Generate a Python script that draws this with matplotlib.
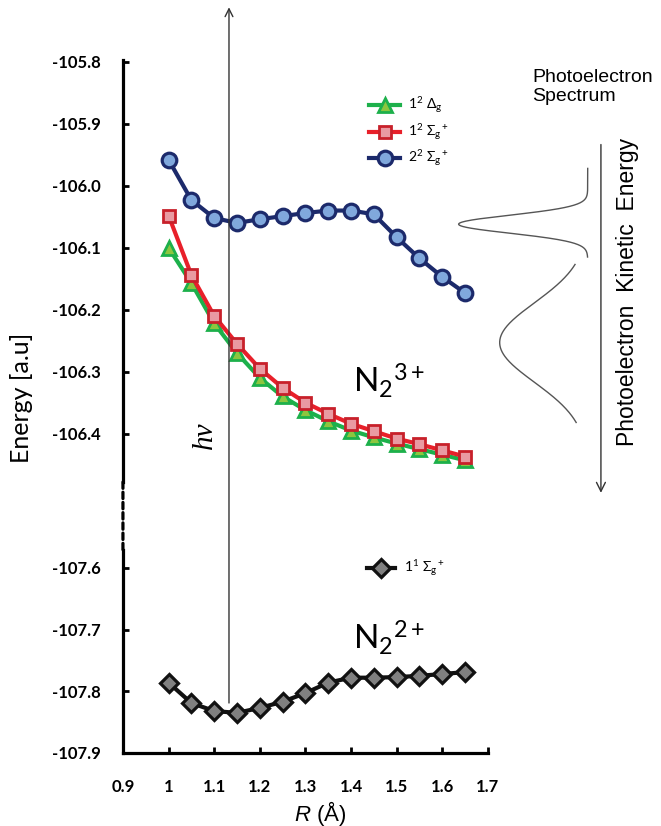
import numpy as np
import matplotlib
matplotlib.use('Agg')
from matplotlib import pyplot as plt
from matplotlib.patches import ConnectionPatch

plt.rcParams['font.family'] = ['Lato', 'DejaVu Sans']
plt.rcParams['mathtext.fontset'] = 'custom'
plt.rcParams['mathtext.rm'] = 'Liberation Sans'
plt.rcParams['mathtext.it'] = 'Liberation Sans:italic'

# bond length R (Angstrom)
R = [1.0, 1.05, 1.1, 1.15, 1.2, 1.25, 1.3, 1.35, 1.4, 1.45, 1.5, 1.55, 1.6, 1.65]

# N2 3+ states (a.u.)
E_1D = [-106.100, -106.157, -106.222, -106.270, -106.310, -106.340, -106.362,
        -106.380, -106.395, -106.406, -106.416, -106.425, -106.434, -106.443]
E_1S = [-106.048, -106.144, -106.210, -106.255, -106.295, -106.326, -106.350,
        -106.368, -106.384, -106.396, -106.408, -106.417, -106.427, -106.437]
E_2S = [-105.958, -106.023, -106.052, -106.060, -106.054, -106.049, -106.044,
        -106.040, -106.040, -106.046, -106.083, -106.117, -106.147, -106.173]
# N2 2+ ground state
E_N2 = [-107.786, -107.819, -107.832, -107.835, -107.827, -107.817, -107.803,
        -107.786, -107.778, -107.778, -107.777, -107.775, -107.772, -107.769]

xticks = [0.9, 1.0, 1.1, 1.2, 1.3, 1.4, 1.5, 1.6, 1.7]
xticklabels = ['0.9', '1', '1.1', '1.2', '1.3', '1.4', '1.5', '1.6', '1.7']
yticks_up = [-105.8, -105.9, -106.0, -106.1, -106.2, -106.3, -106.4]
yticks_lo = [-107.6, -107.7, -107.8, -107.9]

# schematic photoelectron spectrum (peak energy, height, width)
peak_E = [-106.062, -106.253]
peak_h = [0.283, 0.193]
peak_w = [0.0145, 0.064]
peak_span = [(-105.972, -106.115), (-106.127, -106.382)]
spec_base = 1.919

fig = plt.figure(figsize=(6.61, 8.26), dpi=100)
ax_up = fig.add_axes([0.186, 0.4165, 0.552, 0.5109])
ax_lo = fig.add_axes([0.186, 0.0884, 0.552, 0.2458])

for ax in (ax_up, ax_lo):
    ax.set_xlim(0.9, 1.7)
    ax.spines['top'].set_visible(False)
    ax.spines['right'].set_visible(False)
    ax.spines['left'].set_linewidth(2.3)
    ax.spines['bottom'].set_linewidth(2.3)
    ax.tick_params(direction='in', length=4, width=2, labelsize=12, pad=16)

ax_up.set_ylim(-106.478, -105.797)
ax_up.spines['bottom'].set_visible(False)
ax_up.set_xticks([])
ax_up.set_yticks(yticks_up)
ax_up.set_yticklabels(['%.1f' % v for v in yticks_up], fontweight='bold')

ax_lo.set_ylim(-107.9, -107.571)
ax_lo.set_yticks(yticks_lo)
ax_lo.set_yticklabels(['%.1f' % v for v in yticks_lo], fontweight='bold')
ax_lo.set_xticks(xticks)
ax_lo.set_xticklabels(xticklabels, fontweight='bold')
ax_lo.tick_params(axis='x', pad=19)

# curves
l1, = ax_up.plot(R, E_1D, '-^', color='#1db04b', lw=3, ms=10, mfc='#8cc63f',
                 mec='#1db04b', mew=2, label=r'$\mathregular{1^2\ \Delta_g}$', zorder=3)
l2, = ax_up.plot(R, E_1S, '-s', color='#e8202a', lw=3, ms=9, mfc='#e99aa2',
                 mec='#c8202a', mew=2, label=r'$\mathregular{1^2\ \Sigma_g{}^+}$', zorder=4)
l3, = ax_up.plot(R, E_2S, '-o', color='#1c2a6b', lw=3, ms=10.5, mfc='#80a8dc',
                 mec='#1c2a6b', mew=2.3, label=r'$\mathregular{2^2\ \Sigma_g{}^+}$', zorder=4)
l4, = ax_lo.plot(R, E_N2, '-D', color='#111111', lw=3, ms=9.5, mfc='#808080',
                 mec='#111111', mew=2.3, label=r'$\mathregular{1^1\ \Sigma_g{}^+}$', zorder=4)

ax_up.legend(handles=[l1, l2, l3], loc='upper left', bbox_to_anchor=(0.66, 0.93),
             frameon=False, fontsize=10, handlelength=2.2, handletextpad=0.6,
             labelspacing=0.45, borderaxespad=0)
ax_lo.legend(handles=[l4], loc='upper left', bbox_to_anchor=(0.655, 0.985),
             frameon=False, fontsize=10, handlelength=2.0, handletextpad=0.6,
             borderaxespad=0)

ax_up.text(1.404, -106.334, r'$\mathregular{N_2{}^{3+}}$', fontsize=24, va='baseline')
ax_lo.text(1.404, -107.733, r'$\mathregular{N_2{}^{2+}}$', fontsize=24, va='baseline')

# dashed break of the energy axis
brk = ConnectionPatch(xyA=(0, 0), coordsA=ax_up.transAxes, xyB=(0, 1), coordsB=ax_lo.transAxes,
                      color='black', lw=2.3, linestyle=(0, (2, 1.2)))
fig.add_artist(brk)

# photon arrow hv
hv = ConnectionPatch(xyA=(1.1325, -107.819), coordsA=ax_lo.transData,
                     xyB=(1.1325, -105.712), coordsB=ax_up.transData,
                     arrowstyle='->', mutation_scale=14, color='#333333', lw=1)
fig.add_artist(hv)
ax_up.text(1.080, -106.403, 'hv', rotation=90, fontsize=21, family='Liberation Serif',
           style='italic', ha='center', va='center')

# photoelectron spectrum sketch
for Ec, h, w, (e0, e1) in zip(peak_E, peak_h, peak_w, peak_span):
    ee = np.linspace(e0, e1, 300)
    xx = spec_base - h * np.exp(-(ee - Ec) ** 2 / (2 * w ** 2))
    ax_up.plot(xx, ee, color='#555555', lw=1, clip_on=False)

ax_up.annotate('', xy=(1.948, -106.50), xytext=(1.948, -105.929),
               arrowprops=dict(arrowstyle='->', color='#333333', lw=1, mutation_scale=16),
               annotation_clip=False)
ax_up.text(2.007, -106.172, 'Photoelectron  Kinetic  Energy', rotation=90, fontsize=16.5,
           family='Liberation Sans', ha='center', va='center')
ax_up.text(1.798, -105.812, 'Photoelectron\nSpectrum', fontsize=14,
           family='Liberation Sans', ha='left', va='top', linespacing=1.1)

fig.text(0.033, 1 - 398 / 826, 'Energy [a.u]', rotation=90, fontsize=18,
         ha='center', va='center')
fig.text(320 / 661, 1 - 813 / 826, r'$\mathit{R}$ (Å)', fontsize=16, ha='center',
         va='center', family='Liberation Sans')

plt.savefig('out.png', dpi=100)
